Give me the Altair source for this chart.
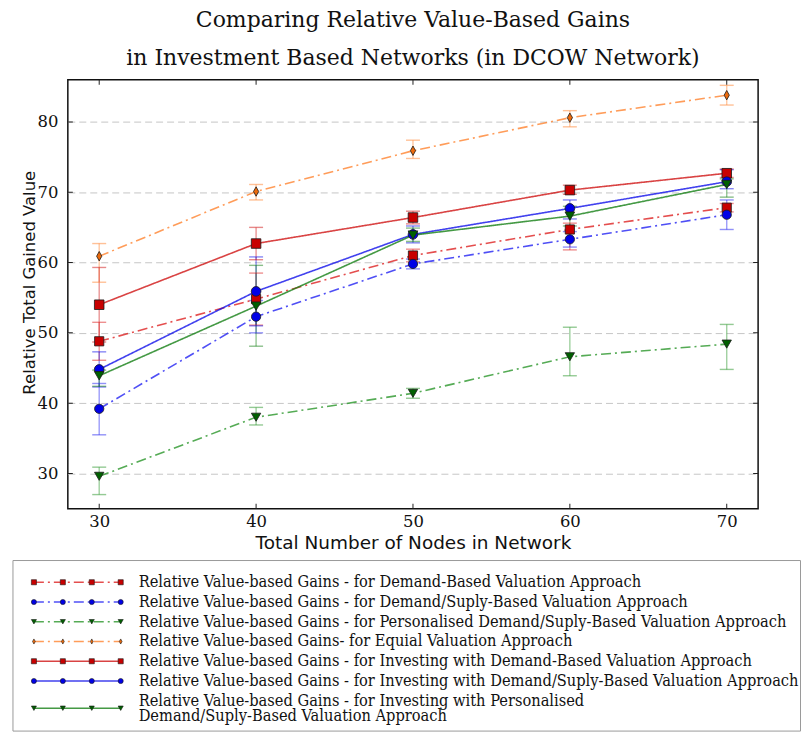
import altair as alt
import pandas as pd

# ---------------------------------------------------------------- data
nodes = [30, 40, 50, 60, 70]
x_ticks = [30, 40, 50, 60, 70]
y_ticks = [30, 40, 50, 60, 70, 80]

labels = [
    "Relative Value-based Gains - for Demand-Based Valuation Approach",
    "Relative Value-based Gains - for Demand/Suply-Based Valuation Approach",
    "Relative Value-based Gains - for Personalised Demand/Suply-Based Valuation Approach",
    "Relative Value-based Gains- for Equial Valuation Approach",
    "Relative Value-based Gains - for Investing with Demand-Based Valuation Approach",
    "Relative Value-based Gains - for Investing with Demand/Suply-Based Valuation Approach",
    "Relative Value-based Gains - for Investing with Personalised\nDemand/Suply-Based Valuation Approach",
]

demand_val = [48.8, 54.8, 61.0, 64.7, 67.8]
demand_low = [46.1, 51.1, 60.1, 61.8, 67.2]
demand_high = [51.5, 58.5, 61.9, 65.6, 68.4]

supply_val = [39.2, 52.3, 59.8, 63.3, 66.8]
supply_low = [35.5, 50.0, 59.1, 62.2, 64.7]
supply_high = [42.8, 54.6, 60.5, 64.4, 68.9]

personal_val = [29.6, 38.0, 41.4, 46.6, 48.4]
personal_low = [27.0, 36.9, 40.7, 43.9, 44.8]
personal_high = [30.9, 39.4, 42.1, 50.8, 51.2]

equal_val = [60.9, 70.1, 75.9, 80.6, 83.8]
equal_low = [57.2, 68.9, 74.8, 79.3, 82.4]
equal_high = [62.7, 71.1, 77.4, 81.6, 85.2]

inv_demand_val = [54.0, 62.7, 66.4, 70.3, 72.7]
inv_demand_low = [48.7, 60.4, 65.5, 69.7, 72.1]
inv_demand_high = [59.3, 65.0, 67.3, 71.0, 73.3]

inv_supply_val = [44.8, 55.9, 64.0, 67.7, 71.5]
inv_supply_low = [42.3, 51.0, 62.8, 66.2, 70.5]
inv_supply_high = [47.3, 60.8, 65.2, 68.9, 73.2]

inv_personal_val = [43.9, 53.8, 63.9, 66.6, 71.1]
inv_personal_low = [42.4, 48.1, 63.0, 65.2, 69.3]
inv_personal_high = [44.7, 59.6, 64.9, 68.0, 71.9]

series_data = [
    (demand_val, demand_low, demand_high),
    (supply_val, supply_low, supply_high),
    (personal_val, personal_low, personal_high),
    (equal_val, equal_low, equal_high),
    (inv_demand_val, inv_demand_low, inv_demand_high),
    (inv_supply_val, inv_supply_low, inv_supply_high),
    (inv_personal_val, inv_personal_low, inv_personal_high),
]

records = []
for lab, (vals, lows, highs) in zip(labels, series_data):
    for n, v, lo, hi in zip(nodes, vals, lows, highs):
        records.append({"series": lab, "nodes": n, "value": v, "low": lo, "high": hi})
df = pd.DataFrame(records)

# ---------------------------------------------------------------- styles
DASHDOT = [10, 4, 2, 4]
SOLID = [1, 0]
THIN_DIAMOND = "M0,-1L0.55,0L0,1L-0.55,0Z"

line_colors = ["#dd2222", "#2323f2", "#2a962a", "#ff8330", "#cf1414", "#1212ea", "#158015"]
marker_fills = ["#c80000", "#0000e6", "#006000", "#ec6a0c", "#c80000", "#0000e6", "#006000"]
dashes = [DASHDOT] * 4 + [SOLID] * 3
widths = [1.6] * 4 + [2.6] * 3
line_opacity = [0.8] * 4 + [1.0] * 3
shapes = ["square", "circle", "triangle-down", THIN_DIAMOND, "square", "circle", "triangle-down"]
sizes = [85, 95, 105, 140, 85, 95, 105]

color_scale = alt.Scale(domain=labels, range=line_colors)
fill_scale = alt.Scale(domain=labels, range=marker_fills)
dash_scale = alt.Scale(domain=labels, range=dashes)
width_scale = alt.Scale(domain=labels, range=widths)
opacity_scale = alt.Scale(domain=labels, range=line_opacity)
shape_scale = alt.Scale(domain=labels, range=shapes)
size_scale = alt.Scale(domain=labels, range=sizes)

PLOT_W, PLOT_H = 692, 430
X_DOMAIN = [28, 72]
Y_DOMAIN = [25, 86]
x_scale = alt.Scale(domain=X_DOMAIN, nice=False, zero=False)
y_scale = alt.Scale(domain=Y_DOMAIN, nice=False, zero=False)

x_axis = alt.Axis(
    values=x_ticks, format="d", grid=False, ticks=False, tickSize=0, domain=False,
    title="Total Number of Nodes in Network",
    labelFont="DejaVu Serif", labelFontSize=16.5, labelColor="#111", labelPadding=5,
    titleFont="DejaVu Sans", titleFontSize=18.5, titleFontWeight="normal",
    titleColor="#111", titlePadding=3,
)
y_axis = alt.Axis(
    values=y_ticks, format="d", grid=True, gridDash=[7, 4], gridColor="#c6c6c6",
    gridWidth=1, ticks=False, tickSize=0, domain=False,
    title="Relative Total Gained Value",
    labelFont="DejaVu Serif", labelFontSize=16.5, labelColor="#111", labelPadding=10,
    titleFont="DejaVu Sans", titleFontSize=16.5, titleFontWeight="normal",
    titleColor="#111", titlePadding=-1, titleY=203,
)

X = alt.X("nodes:Q", scale=x_scale, axis=x_axis)
series_color = alt.Color("series:N", scale=color_scale, legend=None)

base = alt.Chart(df)

err_rules = base.mark_rule(strokeWidth=1.4, opacity=0.45).encode(
    x=X,
    y=alt.Y("low:Q", scale=y_scale, axis=y_axis),
    y2="high:Q",
    color=series_color,
)
err_caps_low = base.mark_tick(orient="horizontal", size=14, thickness=1.4, opacity=0.5).encode(
    x=X, y=alt.Y("low:Q", scale=y_scale, axis=y_axis), color=series_color
)
err_caps_high = base.mark_tick(orient="horizontal", size=14, thickness=1.4, opacity=0.5).encode(
    x=X, y=alt.Y("high:Q", scale=y_scale, axis=y_axis), color=series_color
)
lines = base.mark_line().encode(
    x=X,
    y=alt.Y("value:Q", scale=y_scale, axis=y_axis),
    color=series_color,
    strokeDash=alt.StrokeDash("series:N", scale=dash_scale, legend=None),
    strokeWidth=alt.StrokeWidth("series:N", scale=width_scale, legend=None),
    opacity=alt.Opacity("series:N", scale=opacity_scale, legend=None),
)
points = base.mark_point(filled=True, stroke="#1a1a1a", strokeWidth=0.8, opacity=1).encode(
    x=X,
    y=alt.Y("value:Q", scale=y_scale, axis=y_axis),
    fill=alt.Fill("series:N", scale=fill_scale, legend=None),
    shape=alt.Shape("series:N", scale=shape_scale, legend=None),
    size=alt.Size("series:N", scale=size_scale, legend=None),
)

# inward-facing tick marks on all four sides of the frame
ytick_df = pd.DataFrame({"tick": y_ticks})
xtick_df = pd.DataFrame({"tick": x_ticks})
tick_style = dict(size=10, thickness=1, color="#222", opacity=1, clip=True)
side_ticks = []
for xd in X_DOMAIN:
    side_ticks.append(
        alt.Chart(ytick_df).mark_tick(orient="horizontal", **tick_style).encode(
            x=alt.XDatum(xd, scale=x_scale, axis=x_axis),
            y=alt.Y("tick:Q", scale=y_scale, axis=y_axis),
        )
    )
for yd in Y_DOMAIN:
    side_ticks.append(
        alt.Chart(xtick_df).mark_tick(orient="vertical", **tick_style).encode(
            x=alt.X("tick:Q", scale=x_scale, axis=x_axis),
            y=alt.YDatum(yd, scale=y_scale, axis=y_axis),
        )
    )

main = alt.layer(err_rules, err_caps_low, err_caps_high, lines, points, *side_ticks).properties(
    width=PLOT_W,
    height=PLOT_H,
    view=alt.ViewBackground(stroke="#111", strokeWidth=1.5),
    title=alt.TitleParams(
        ["Comparing Relative Value-Based Gains", "in Investment Based Networks (in DCOW Network)"],
        font="DejaVu Serif", fontSize=22, fontWeight="normal", color="#111",
        lineHeight=38, anchor="middle", offset=10,
    ),
)

# ---------------------------------------------------------------- legend box
LEGEND_H = 171
STEP = 29.0          # px between the four handle markers
HANDLE0 = -34.0      # first handle marker, relative to plot left edge
ROW_PX = 19.8        # px per legend row
FIRST_ROW = 1.1      # first row centre, in rows from the top of the box
LINE_H = 15          # line height inside a wrapped label
FRAME_L, FRAME_R = -55.0, 734.5

def to_unit(px):
    return (px - HANDLE0) / STEP

# text rows are evenly spaced; a wrapped label's handle sits at the middle of its lines
text_rows = [FIRST_ROW + i for i in range(len(labels))]
handle_rows = [
    r + lab.count("\n") * LINE_H / 2 / ROW_PX for r, lab in zip(text_rows, labels)
]

handle_df = pd.DataFrame(
    [{"series": lab, "k": k, "row": r} for lab, r in zip(labels, handle_rows) for k in range(4)]
)
text_df = pd.DataFrame({"series": labels, "row": text_rows, "k": [3] * len(labels)})

lg_x = alt.Scale(domain=[to_unit(0), to_unit(PLOT_W)], nice=False, zero=False)
lg_y = alt.Scale(domain=[0, LEGEND_H / ROW_PX], nice=False, zero=False, reverse=True)
LX = alt.X("k:Q", scale=lg_x, axis=None)
LY = alt.Y("row:Q", scale=lg_y, axis=None)

frame = alt.Chart(alt.Data(values=[{}])).mark_rect(
    fill="white", stroke="#9a9a9a", strokeWidth=1, clip=False
).encode(
    x=alt.XDatum(to_unit(FRAME_L), scale=lg_x, axis=None),
    x2=alt.X2Datum(to_unit(FRAME_R)),
    y=alt.YDatum(0, scale=lg_y, axis=None),
    y2=alt.Y2Datum(LEGEND_H / ROW_PX),
)
handle_lines = alt.Chart(handle_df).mark_line(clip=False).encode(
    x=LX, y=LY,
    color=series_color,
    strokeDash=alt.StrokeDash("series:N", scale=dash_scale, legend=None),
    strokeWidth=alt.StrokeWidth("series:N", scale=width_scale, legend=None),
    opacity=alt.Opacity("series:N", scale=opacity_scale, legend=None),
)
handle_points = alt.Chart(handle_df).mark_point(
    filled=True, size=26, stroke="#1a1a1a", strokeWidth=0.6, opacity=1, clip=False
).encode(
    x=LX, y=LY,
    fill=alt.Fill("series:N", scale=fill_scale, legend=None),
    shape=alt.Shape("series:N", scale=shape_scale, legend=None),
)
legend_text = alt.Chart(text_df).mark_text(
    align="left", baseline="middle", dx=18, font="DejaVu Serif Condensed",
    fontSize=16.3, lineBreak="\n", lineHeight=LINE_H, color="#111", clip=False,
).encode(x=LX, y=LY, text="series:N")

legend = alt.layer(frame, handle_lines, handle_points, legend_text).properties(
    width=PLOT_W,
    height=LEGEND_H,
    view=alt.ViewBackground(stroke="transparent"),
)

chart = (
    alt.vconcat(main, legend, spacing=52, bounds="flush")
    .resolve_scale(x="independent", y="independent", size="independent")
    .properties(padding={"left": 12, "top": 7, "right": 0, "bottom": 0}, background="white")
)

chart.save("out.html", embed_options={"renderer": "svg", "actions": False})
